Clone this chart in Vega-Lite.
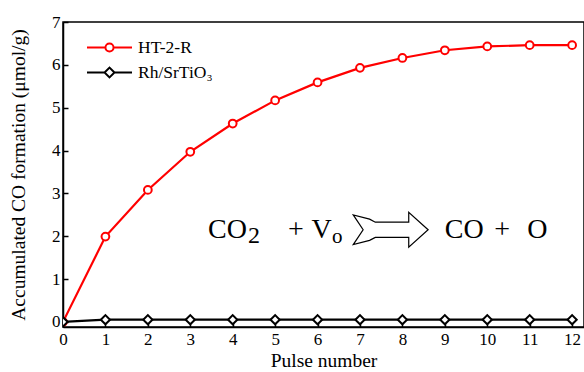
{
  "$schema": "https://vega.github.io/schema/vega-lite/v6.json",
  "autosize": "none",
  "padding": {"left": 63, "top": 22, "right": 0, "bottom": 45},
  "width": 521,
  "height": 305,
  "background": "white",
  "config": {
    "font": "Liberation Serif",
    "view": {"stroke": "black", "strokeWidth": 1.5},
    "axis": {
      "grid": false,
      "labelFont": "Liberation Serif",
      "titleFont": "Liberation Serif",
      "labelFontSize": 17,
      "titleFontSize": 19.5,
      "titleFontWeight": "normal",
      "labelColor": "black",
      "titleColor": "black",
      "domainColor": "black",
      "domainWidth": 1.5,
      "tickColor": "black",
      "tickWidth": 1.5,
      "tickSize": -5,
      "labelPadding": 8
    },
    "legend": {"labelFont": "Liberation Serif"}
  },
  "datasets": {
    "pulses": [
      {"pulse": 0, "co": 0, "sample": "HT-2-R"},
      {"pulse": 1, "co": 1.99, "sample": "HT-2-R"},
      {"pulse": 2, "co": 3.08, "sample": "HT-2-R"},
      {"pulse": 3, "co": 3.97, "sample": "HT-2-R"},
      {"pulse": 4, "co": 4.63, "sample": "HT-2-R"},
      {"pulse": 5, "co": 5.17, "sample": "HT-2-R"},
      {"pulse": 6, "co": 5.59, "sample": "HT-2-R"},
      {"pulse": 7, "co": 5.93, "sample": "HT-2-R"},
      {"pulse": 8, "co": 6.16, "sample": "HT-2-R"},
      {"pulse": 9, "co": 6.34, "sample": "HT-2-R"},
      {"pulse": 10, "co": 6.43, "sample": "HT-2-R"},
      {"pulse": 11, "co": 6.46, "sample": "HT-2-R"},
      {"pulse": 12, "co": 6.46, "sample": "HT-2-R"},
      {"pulse": 0, "co": 0.0, "sample": "Rh/SrTiO₃"},
      {"pulse": 1, "co": 0.05, "sample": "Rh/SrTiO₃"},
      {"pulse": 2, "co": 0.05, "sample": "Rh/SrTiO₃"},
      {"pulse": 3, "co": 0.05, "sample": "Rh/SrTiO₃"},
      {"pulse": 4, "co": 0.05, "sample": "Rh/SrTiO₃"},
      {"pulse": 5, "co": 0.05, "sample": "Rh/SrTiO₃"},
      {"pulse": 6, "co": 0.05, "sample": "Rh/SrTiO₃"},
      {"pulse": 7, "co": 0.05, "sample": "Rh/SrTiO₃"},
      {"pulse": 8, "co": 0.05, "sample": "Rh/SrTiO₃"},
      {"pulse": 9, "co": 0.05, "sample": "Rh/SrTiO₃"},
      {"pulse": 10, "co": 0.05, "sample": "Rh/SrTiO₃"},
      {"pulse": 11, "co": 0.05, "sample": "Rh/SrTiO₃"},
      {"pulse": 12, "co": 0.05, "sample": "Rh/SrTiO₃"}
    ],
    "notes": [
      {"piece": "CO", "part": "left"},
      {"piece": "2", "part": "leftsub"},
      {"piece": "+", "part": "left"},
      {"piece": "V", "part": "left"},
      {"piece": "o", "part": "leftsub"},
      {"piece": "CO", "part": "right"},
      {"piece": "+", "part": "right"},
      {"piece": "O", "part": "right"}
    ]
  },
  "layer": [
    {
      "data": {"name": "pulses"},
      "mark": {"type": "line", "strokeWidth": 2.2, "clip": true},
      "encoding": {
        "x": {
          "field": "pulse", "type": "quantitative",
          "scale": {"domain": [0, 12.28], "nice": false, "zero": false},
          "axis": {"title": "Pulse number", "values": [0,1,2,3,4,5,6,7,8,9,10,11,12], "titlePadding": 4, "labelPadding": 9, "labelFlush": false}
        },
        "y": {
          "field": "co", "type": "quantitative",
          "scale": {"domain": [-0.12, 7], "nice": false, "zero": false},
          "axis": {"title": "Accumulated CO formation (μmol/g)", "values": [0,1,2,3,4,5,6,7], "titlePadding": 23, "labelFlush": false}
        },
        "color": {
          "field": "sample", "type": "nominal",
          "scale": {"domain": ["HT-2-R", "Rh/SrTiO₃"], "range": ["#ff0000", "#000000"]},
          "legend": {
            "title": null,
            "orient": "none",
            "legendX": 23,
            "legendY": 13,
            "symbolSize": 2025,
            "symbolStrokeWidth": 2,
            "labelFontSize": 17.5,
            "labelColor": "black",
            "labelOffset": 5,
            "rowPadding": 0,
            "clipHeight": 25,
            "encode": {
              "symbols": {
                "update": {
                  "shape": {"signal": "datum.value === 'HT-2-R' ? 'M-1,0L-0.18,0M0.18,0L1,0M0.18,0A0.18,0.18 0 1,1 -0.18,0A0.18,0.18 0 1,1 0.18,0Z' : 'M-1,0L-0.22,0M0.22,0L1,0M0.22,0L0,-0.22L-0.22,0L0,0.22Z'"},
                  "fill": {"value": "white"},
                  "fillOpacity": {"value": 1},
                  "strokeWidth": {"value": 2}
                }
              }
            }
          }
        }
      }
    },
    {
      "data": {"name": "pulses"},
      "transform": [{"filter": "datum.sample === 'HT-2-R'"}],
      "mark": {"type": "point", "shape": "circle", "filled": false, "fill": "white", "fillOpacity": 1, "stroke": "#ff0000", "strokeWidth": 2, "size": 60, "opacity": 1, "clip": true},
      "encoding": {"x": {"field": "pulse", "type": "quantitative"}, "y": {"field": "co", "type": "quantitative"}}
    },
    {
      "data": {"name": "pulses"},
      "transform": [{"filter": "datum.sample !== 'HT-2-R'"}],
      "mark": {"type": "point", "shape": "diamond", "filled": false, "fill": "white", "fillOpacity": 1, "stroke": "#000000", "strokeWidth": 2, "size": 85, "opacity": 1, "clip": true},
      "encoding": {"x": {"field": "pulse", "type": "quantitative"}, "y": {"field": "co", "type": "quantitative"}}
    },
    {
      "data": {"name": "notes"},
      "transform": [{"filter": "datum.piece === 'CO' && datum.part === 'left'"}],
      "mark": {"type": "text", "fontSize": 28, "align": "left", "baseline": "alphabetic", "fill": "black"},
      "encoding": {"x": {"datum": 3.42}, "y": {"datum": 1.96}, "text": {"field": "piece", "type": "nominal"}}
    },
    {
      "data": {"name": "notes"},
      "transform": [{"filter": "datum.piece === '2'"}],
      "mark": {"type": "text", "fontSize": 24, "align": "left", "baseline": "alphabetic", "fill": "black"},
      "encoding": {"x": {"datum": 4.36}, "y": {"datum": 1.84}, "text": {"field": "piece", "type": "nominal"}}
    },
    {
      "data": {"name": "notes"},
      "transform": [{"filter": "datum.piece === '+' && datum.part === 'left'"}],
      "mark": {"type": "text", "fontSize": 28, "align": "center", "baseline": "alphabetic", "fill": "black"},
      "encoding": {"x": {"datum": 5.49}, "y": {"datum": 1.96}, "text": {"field": "piece", "type": "nominal"}}
    },
    {
      "data": {"name": "notes"},
      "transform": [{"filter": "datum.piece === 'V'"}],
      "mark": {"type": "text", "fontSize": 28, "align": "left", "baseline": "alphabetic", "fill": "black"},
      "encoding": {"x": {"datum": 5.86}, "y": {"datum": 1.96}, "text": {"field": "piece", "type": "nominal"}}
    },
    {
      "data": {"name": "notes"},
      "transform": [{"filter": "datum.piece === 'o'"}],
      "mark": {"type": "text", "fontSize": 21, "align": "left", "baseline": "alphabetic", "fill": "black"},
      "encoding": {"x": {"datum": 6.34}, "y": {"datum": 1.84}, "text": {"field": "piece", "type": "nominal"}}
    },
    {
      "data": {"name": "notes"},
      "transform": [{"filter": "datum.piece === 'CO' && datum.part === 'right'"}],
      "mark": {"type": "text", "fontSize": 28, "align": "left", "baseline": "alphabetic", "fill": "black"},
      "encoding": {"x": {"datum": 9.0}, "y": {"datum": 1.96}, "text": {"field": "piece", "type": "nominal"}}
    },
    {
      "data": {"name": "notes"},
      "transform": [{"filter": "datum.piece === '+' && datum.part === 'right'"}],
      "mark": {"type": "text", "fontSize": 28, "align": "center", "baseline": "alphabetic", "fill": "black"},
      "encoding": {"x": {"datum": 10.35}, "y": {"datum": 1.96}, "text": {"field": "piece", "type": "nominal"}}
    },
    {
      "data": {"name": "notes"},
      "transform": [{"filter": "datum.piece === 'O'"}],
      "mark": {"type": "text", "fontSize": 28, "align": "left", "baseline": "alphabetic", "fill": "black"},
      "encoding": {"x": {"datum": 10.94}, "y": {"datum": 1.96}, "text": {"field": "piece", "type": "nominal"}}
    },
    {
      "data": {"name": "notes"},
      "transform": [{"filter": "datum.piece === 'V'"}],
      "mark": {"type": "point", "shape": "M1,0L0.49,-0.46L0.49,-0.2L-0.39,-0.2L-0.54,-0.28L-0.97,-0.39L-0.71,0L-0.97,0.39L-0.54,0.28L-0.39,0.2L0.49,0.2L0.49,0.46Z", "size": 5776, "filled": false, "fill": "white", "stroke": "black", "strokeWidth": 1.2, "opacity": 1},
      "encoding": {"x": {"datum": 7.71}, "y": {"datum": 2.15}}
    }
  ]
}
